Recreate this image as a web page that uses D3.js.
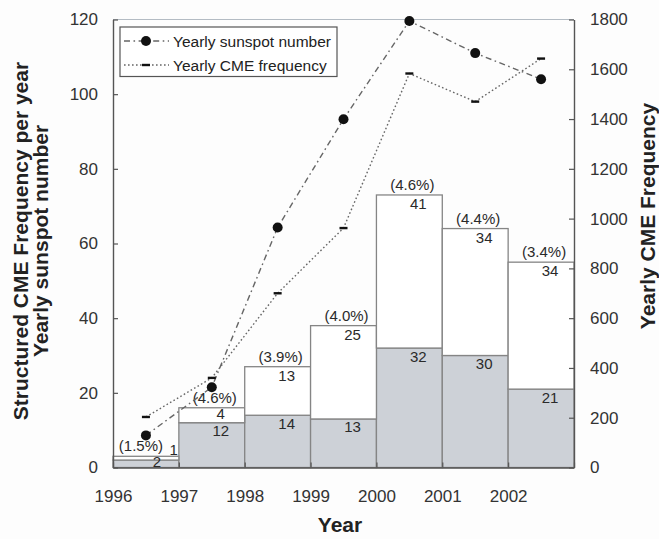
<!DOCTYPE html>
<html>
<head>
<meta charset="utf-8">
<script src="https://cdn.jsdelivr.net/npm/d3@7"></script>
<style>
  html, body { margin: 0; padding: 0; background: #fdfdfd; }
  svg { display: block; font-family: "Liberation Sans", Arial, sans-serif; }
</style>
</head>
<body>
<svg id="chart" width="659" height="539"></svg>
<script>
// Yearly bins, structured CME counts (stacked), percentages and line series
const years = [1996, 1997, 1998, 1999, 2000, 2001, 2002];
const structuredLower = [2, 12, 14, 13, 32, 30, 21];   // grey part of each bar
const structuredUpper = [1, 4, 13, 25, 41, 34, 34];    // white part stacked on top
const percentLabels = ["(1.5%)", "(4.6%)", "(3.9%)", "(4.0%)", "(4.6%)", "(4.4%)", "(3.4%)"];
const sunspotNumber = [8.6, 21.5, 64.3, 93.3, 119.6, 111.0, 104.0];
const cmeFrequency = [203, 360, 700, 962, 1583, 1470, 1643];
const xTicks = [1996, 1997, 1998, 1999, 2000, 2001, 2002, 2003];
const xTickLabels = ["1996", "1997", "1998", "1999", "2000", "2001", "2002", ""];
const leftTicks = [0, 20, 40, 60, 80, 100, 120];
const rightTicks = [0, 200, 400, 600, 800, 1000, 1200, 1400, 1600, 1800];

const svg = d3.select("#chart");
const plotLeft = 113, plotRight = 574, plotTop = 19.5, plotBottom = 467.5;

const x = d3.scaleLinear().domain([1996, 2003]).range([plotLeft, plotRight]);
const yL = d3.scaleLinear().domain([0, 120]).range([plotBottom, plotTop]);
const yR = d3.scaleLinear().domain([0, 1800]).range([plotBottom, plotTop]);

const axisColor = "#555";
const barStroke = "#858585";
const greyFill = "#cdd1d7";

// top frame line
svg.append("line")
  .attr("x1", plotLeft).attr("x2", plotRight).attr("y1", plotTop).attr("y2", plotTop)
  .attr("stroke", "#b4bcc4").attr("stroke-width", 1.2);

// stacked bars spanning each full year
const bars = years.map((yr, i) => ({
  yr, lo: structuredLower[i], hi: structuredUpper[i], pct: percentLabels[i]
}));

const g = svg.append("g");
g.selectAll("rect.lower").data(bars).join("rect")
  .attr("class", "lower")
  .attr("x", d => x(d.yr)).attr("width", d => x(d.yr + 1) - x(d.yr))
  .attr("y", d => yL(d.lo)).attr("height", d => yL(0) - yL(d.lo))
  .attr("fill", greyFill).attr("stroke", barStroke).attr("stroke-width", 1.3);
g.selectAll("rect.upper").data(bars).join("rect")
  .attr("class", "upper")
  .attr("x", d => x(d.yr)).attr("width", d => x(d.yr + 1) - x(d.yr))
  .attr("y", d => yL(d.lo + d.hi)).attr("height", d => yL(d.lo) - yL(d.lo + d.hi))
  .attr("fill", "#ffffff").attr("stroke", barStroke).attr("stroke-width", 1.3);

// value and percentage labels
const labelFont = 15;
const lab = svg.append("g").attr("font-size", labelFont).attr("fill", "#2a2a2a");
bars.forEach(d => {
  const cx = (x(d.yr) + x(d.yr + 1)) / 2;
  const barTop = yL(d.lo + d.hi);
  const segH = yL(d.lo) - barTop;
  if (segH < 14) {
    // segment too thin to hold text: value sits beside the bar top
    lab.append("text").attr("x", x(d.yr + 1) - 1).attr("y", barTop - 1)
      .attr("text-anchor", "end").text(d.hi);
    lab.append("text").attr("x", cx + 11).attr("y", yL(0) - 0.5)
      .attr("text-anchor", "middle").text(d.lo);
    lab.append("text").attr("x", cx - 5).attr("y", barTop - 5)
      .attr("text-anchor", "middle").text(d.pct);
  } else {
    lab.append("text").attr("x", cx + 9).attr("y", barTop + Math.min(14, segH - 3.5))
      .attr("text-anchor", "middle").text(d.hi);
    lab.append("text").attr("x", cx + 9).attr("y", yL(d.lo) + 13.5)
      .attr("text-anchor", "middle").text(d.lo);
    lab.append("text").attr("x", cx + 3).attr("y", barTop - 5)
      .attr("text-anchor", "middle").text(d.pct);
  }
});

// line series at mid-year
const mid = years.map(v => v + 0.5);
const sunLine = d3.line().x((d, i) => x(mid[i])).y(d => yL(d));
const cmeLine = d3.line().x((d, i) => x(mid[i])).y(d => yR(d));

svg.append("path").datum(cmeFrequency).attr("d", cmeLine)
  .attr("fill", "none").attr("stroke", "#666").attr("stroke-width", 1.4)
  .attr("stroke-dasharray", "1.6,2.4");
svg.append("path").datum(sunspotNumber).attr("d", sunLine)
  .attr("fill", "none").attr("stroke", "#666").attr("stroke-width", 1.4)
  .attr("stroke-dasharray", "6,3.5,1.6,3.5");

svg.selectAll("rect.cmeMark").data(cmeFrequency).join("rect")
  .attr("class", "cmeMark")
  .attr("x", (d, i) => x(mid[i]) - 4).attr("y", d => yR(d) - 1.2)
  .attr("width", 8).attr("height", 2.4).attr("fill", "#111");
svg.selectAll("circle.sun").data(sunspotNumber).join("circle")
  .attr("class", "sun")
  .attr("cx", (d, i) => x(mid[i])).attr("cy", d => yL(d)).attr("r", 5)
  .attr("fill", "#111");

// axes
const tickFont = 17;
function styleAxis(sel) {
  sel.selectAll("path.domain").attr("stroke", axisColor).attr("stroke-width", 1.4);
  sel.selectAll(".tick line").attr("stroke", axisColor).attr("stroke-width", 1.2);
  sel.selectAll("text").attr("fill", "#333").attr("font-size", tickFont)
    .attr("font-family", "'Liberation Sans', Arial, sans-serif");
}

svg.append("g").attr("transform", `translate(0,${plotBottom})`)
  .call(d3.axisBottom(x).tickValues(xTicks)
    .tickFormat((d, i) => xTickLabels[i])
    .tickSizeInner(-5).tickSizeOuter(0).tickPadding(22))
  .call(styleAxis);

svg.append("g").attr("transform", `translate(${plotLeft},0)`)
  .call(d3.axisLeft(yL).tickValues(leftTicks).tickFormat(d3.format("d"))
    .tickSizeInner(-5).tickSizeOuter(0).tickPadding(15))
  .call(styleAxis);

svg.append("g").attr("transform", `translate(${plotRight},0)`)
  .call(d3.axisRight(yR).tickValues(rightTicks).tickFormat(d3.format("d"))
    .tickSizeInner(-5).tickSizeOuter(0).tickPadding(16))
  .call(styleAxis);

// axis titles
const titleStyle = s => s.attr("font-size", 21).attr("font-weight", "bold")
  .attr("fill", "#222").attr("text-anchor", "middle");
svg.append("text").attr("x", 340).attr("y", 532).text("Year").call(titleStyle);
svg.append("text").attr("transform", "translate(28,241) rotate(-90)")
  .text("Structured CME Frequency per year").call(titleStyle);
svg.append("text").attr("transform", "translate(48,241) rotate(-90)")
  .text("Yearly sunspot number").call(titleStyle);
svg.append("text").attr("transform", "translate(655,216) rotate(-90)")
  .text("Yearly CME Frequency").call(titleStyle);

// legend
const lg = svg.append("g");
lg.append("rect").attr("x", 120).attr("y", 27).attr("width", 217).attr("height", 49.5)
  .attr("fill", "#fff").attr("stroke", "#555").attr("stroke-width", 1.2);
const legendRows = [
  { label: "Yearly sunspot number", dash: "6,3.5,1.6,3.5", mark: "dot" },
  { label: "Yearly CME frequency", dash: "1.6,2.4", mark: "bar" }
];
legendRows.forEach((r, i) => {
  const cy = 41 + i * 24;
  lg.append("line").attr("x1", 124).attr("x2", 169).attr("y1", cy).attr("y2", cy)
    .attr("stroke", "#666").attr("stroke-width", 1.4).attr("stroke-dasharray", r.dash);
  if (r.mark === "dot") {
    lg.append("circle").attr("cx", 146).attr("cy", cy).attr("r", 5).attr("fill", "#111");
  } else {
    lg.append("rect").attr("x", 142).attr("y", cy - 1.2).attr("width", 8).attr("height", 2.4)
      .attr("fill", "#111");
  }
  lg.append("text").attr("x", 173).attr("y", cy + 5.5).attr("font-size", 15.5)
    .attr("fill", "#222").text(r.label);
});
</script>
</body>
</html>
